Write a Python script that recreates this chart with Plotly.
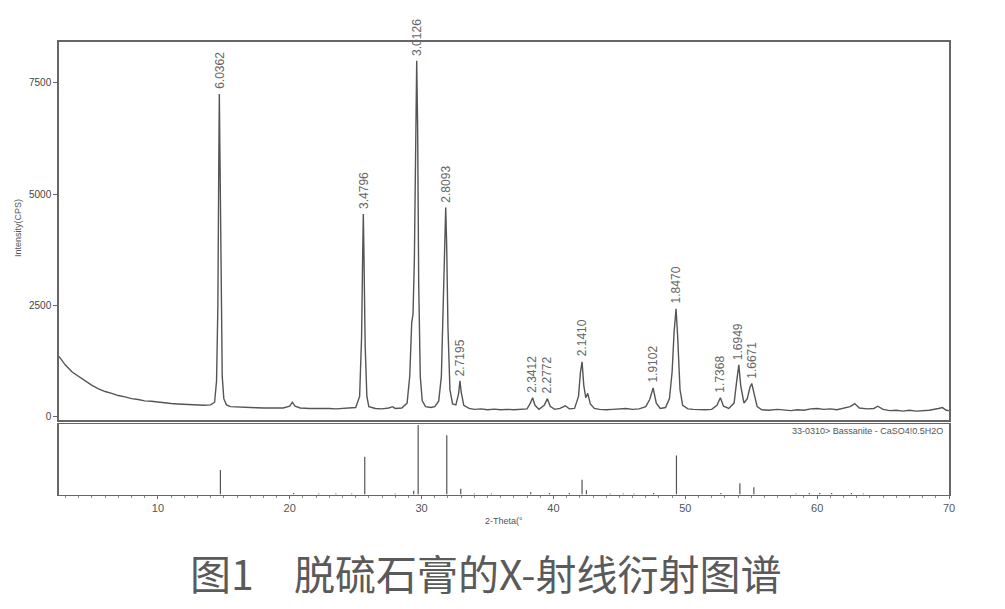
import plotly.graph_objects as go

two_theta = [2.5, 3.0, 3.5, 4.0, 4.5, 5.0, 5.5, 6.0, 6.5, 7.0, 7.5, 8.0, 8.5, 9.0, 9.5, 10.0,
             10.5, 11.0, 11.5, 12.0, 12.5, 13.0, 13.5, 14.0, 14.3, 14.45, 14.55, 14.62, 14.66,
             14.71, 14.78, 14.88, 15.0, 15.2, 15.5, 16.0, 16.5, 17.0, 17.5, 18.0, 18.5, 19.0,
             19.5, 20.0, 20.2, 20.4, 20.8, 21.5, 22.0, 22.5, 23.0, 23.5, 24.0, 24.5, 25.0,
             25.3, 25.45, 25.53, 25.58, 25.63, 25.72, 25.85, 26.0, 26.5, 27.0, 27.5, 27.8,
             28.0, 28.5, 28.9, 29.1, 29.25, 29.35, 29.45, 29.55, 29.63, 29.7, 29.78, 29.9,
             30.05, 30.3, 30.7, 31.0, 31.3, 31.5, 31.65, 31.76, 31.83, 31.9, 32.0, 32.15,
             32.35, 32.6, 32.8, 32.91, 33.0, 33.2, 33.6, 34.0, 34.5, 35.0, 35.5, 36.0, 36.5,
             37.0, 37.5, 38.0, 38.25, 38.42, 38.6, 38.9, 39.3, 39.54, 39.75, 40.1, 40.5, 40.9,
             41.2, 41.6, 41.9, 42.05, 42.17, 42.3, 42.45, 42.6, 42.8, 43.1, 43.5, 44.0, 44.5,
             45.0, 45.5, 46.0, 46.5, 47.0, 47.3, 47.56, 47.8, 48.1, 48.5, 48.8, 49.0, 49.15,
             49.3, 49.42, 49.6, 49.8, 50.2, 50.6, 51.0, 51.5, 52.0, 52.4, 52.66, 52.9, 53.3,
             53.7, 53.9, 54.06, 54.2, 54.45, 54.7, 54.9, 55.04, 55.2, 55.45, 55.8, 56.3, 57.0,
             57.5, 58.0, 58.5, 59.0, 59.5, 60.0, 60.5, 61.0, 61.5, 62.0, 62.5, 62.85, 63.2,
             63.8, 64.3, 64.6, 65.0, 65.5, 66.0, 66.5, 67.0, 67.5, 68.0, 68.5, 69.2, 69.5,
             69.8, 70.0]
intensity = [1350, 1150, 1000, 900, 780, 700, 620, 560, 520, 470, 440, 400, 380, 350, 340, 320,
             300, 290, 280, 270, 260, 255, 250, 260, 320, 800, 2500, 5800, 7250,
             5800, 2800, 900, 400, 260, 220, 210, 200, 200, 195, 190, 190, 185,
             190, 230, 320, 230, 190, 180, 185, 175, 180, 170, 175, 180, 200,
             450, 1800, 3600, 4550, 3600, 1600, 450, 220, 180, 170, 190, 220,
             180, 190, 300, 900, 2100, 2300, 3500, 6500, 8000, 6500, 3000, 900,
             350, 220, 200, 220, 350, 900, 2600, 4300, 4700, 3900, 2000, 600,
             280, 260, 500, 800, 550, 250, 180, 160, 170, 150, 165, 150, 160,
             150, 155, 170, 300, 420, 250, 160, 250, 400, 230, 160, 180, 240,
             170, 180, 450, 1000, 1230, 700, 420, 520, 280, 180, 160, 150, 160,
             170, 180, 160, 170, 220, 380, 640, 300, 180, 200, 400, 1000, 1900,
             2420, 1800, 600, 250, 170, 160, 155, 150, 160, 250, 420, 230, 180,
             300, 800, 1160, 700, 300, 400, 650, 740, 550, 220, 150, 140, 160,
             150, 130, 150, 140, 170, 180, 160, 170, 150, 180, 220, 290, 190,
             170, 180, 230, 160, 130, 140, 120, 140, 120, 130, 140, 180, 200,
             140, 130]

# ---- labelled peaks (d-spacing in angstrom) ----
peak_2theta = [14.66, 25.58, 29.63, 31.83, 32.91, 38.42, 39.54, 42.17, 47.56, 49.30, 52.66, 54.06, 55.04]
peak_height = [7250, 4550, 8000, 4700, 800, 420, 400, 1230, 640, 2420, 420, 1160, 740]
peak_d = ["6.0362", "3.4796", "3.0126", "2.8093", "2.7195", "2.3412", "2.2772",
          "2.1410", "1.9102", "1.8470", "1.7368", "1.6949", "1.6671"]

# ---- reference pattern 33-0310 Bassanite (relative intensity) ----
ref_2theta = [14.74, 20.3, 22.2, 23.5, 24.7, 25.69, 28.0, 29.40, 29.74, 31.91, 32.97, 34.0, 35.3,
              38.27, 39.7, 41.2, 42.17, 42.5, 44.3, 45.3, 46.1, 47.6, 49.33, 52.7, 54.14, 55.20,
              58.4, 59.4, 60.2, 61.1, 62.6, 63.5]
ref_int = [35, 2, 1, 1, 1, 54, 1, 5, 100, 85, 8, 1, 1,
           3, 2, 2, 21, 6, 1, 1, 1, 2, 56, 2, 16, 10,
           1, 2, 2, 2, 2, 1]

yticks = [0, 2500, 5000, 7500]
xticks = [10, 20, 30, 40, 50, 60, 70]

GREY = "#555555"
AX = "#666666"

W, H = 1005, 609
L, R, T, B = 59, 56, 42, 114
PW = W - L - R
PH = H - T - B


def px(xp):
    return (xp - L) / PW


def py(yp):
    return (H - B - yp) / PH


fig = go.Figure()
fig.add_trace(go.Scatter(x=two_theta, y=intensity, mode="lines",
                         line=dict(color=GREY, width=1.4), xaxis="x", yaxis="y",
                         showlegend=False, hoverinfo="skip"))

sx, sy = [], []
for t, v in zip(ref_2theta, ref_int):
    sx += [t, t, None]
    sy += [0, v, None]
fig.add_trace(go.Scatter(x=sx, y=sy, mode="lines", line=dict(color=GREY, width=1.2),
                         xaxis="x2", yaxis="y2", showlegend=False, hoverinfo="skip"))

for t, h, d in zip(peak_2theta, peak_height, peak_d):
    fig.add_annotation(x=t, y=h, xref="x", yref="y", text=d, textangle=-90,
                       showarrow=False, xanchor="center", yanchor="bottom", yshift=3,
                       font=dict(family="Liberation Sans, Arial", size=12, color="#666666"))

fig.add_annotation(x=69.7, y=101, xref="x2", yref="y2", text="33-0310> Bassanite - CaSO4!0.5H2O",
                   showarrow=False, xanchor="right", yanchor="top",
                   font=dict(family="Liberation Sans, Arial", size=9, color="#555555"))

# axis titles
fig.add_annotation(x=px(18), y=py(228), xref="paper", yref="paper", text="Intensity(CPS)",
                   textangle=-90, showarrow=False, xanchor="center", yanchor="middle",
                   font=dict(family="Liberation Sans, Arial", size=9, color="#555555"))
fig.add_annotation(x=px(504), y=py(521), xref="paper", yref="paper", text="2-Theta(°",
                   showarrow=False, xanchor="center", yanchor="middle",
                   font=dict(family="Liberation Sans, Arial", size=9, color="#555555"))

# caption
fig.add_annotation(x=px(188), y=py(572), xref="paper", yref="paper", text="图1", showarrow=False,
                   font=dict(family="Noto Sans CJK SC", size=41, color="#5a5a5a"),
                   xanchor="left", yanchor="middle")
fig.add_annotation(x=px(292), y=py(572), xref="paper", yref="paper", text="脱硫石膏的X-射线衍射图谱",
                   showarrow=False,
                   font=dict(family="Noto Sans CJK SC", size=41, color="#5a5a5a"),
                   xanchor="left", yanchor="middle")

up_bottom = 420
low_top = 423.5
fig.update_layout(
    width=W, height=H, margin=dict(l=L, r=R, t=T, b=B, autoexpand=False),
    paper_bgcolor="white", plot_bgcolor="white",
    font=dict(family="Liberation Sans, Arial", color="#444444"),
    xaxis=dict(range=[2.5, 70], domain=[0, 1], anchor="y", showticklabels=False,
               showline=True, mirror=True, linecolor=AX, linewidth=1.5, ticks="",
               showgrid=False, zeroline=False, automargin=False),
    yaxis=dict(range=[-80, 8420], domain=[py(up_bottom), 1], anchor="x",
               tickvals=yticks, ticks="outside", ticklen=4, tickcolor=AX,
               tickfont=dict(size=10, color="#444444"),
               showline=True, mirror=True, linecolor=AX, linewidth=1.5,
               showgrid=False, zeroline=False, automargin=False),
    xaxis2=dict(range=[2.5, 70], domain=[0, 1], anchor="y2", tickvals=xticks,
                ticks="outside", ticklen=3, tickcolor=AX,
                minor=dict(dtick=1, ticks="outside", ticklen=2, tickcolor="#888888"),
                tickfont=dict(size=11, color="#555555"),
                showline=True, mirror=True, linecolor=AX, linewidth=1.2,
                showgrid=False, zeroline=False, automargin=False),
    yaxis2=dict(range=[-1, 102], domain=[0, py(low_top)], anchor="x2",
                showticklabels=False, ticks="", showline=True, mirror=True,
                linecolor=AX, linewidth=1.5, showgrid=False, zeroline=False, automargin=False),
)

fig.write_html("out.html", config={"displayModeBar": False},
               post_script="document.body.style.margin='0';")
